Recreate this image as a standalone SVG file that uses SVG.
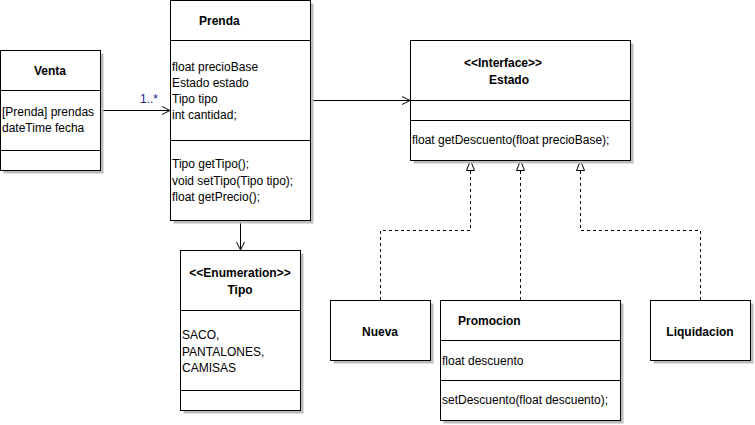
<svg xmlns="http://www.w3.org/2000/svg" width="755" height="425" viewBox="0 0 755 425">
<defs>
<style>
.box{fill:#ffffff;stroke:#000000;stroke-width:1}
.sh{fill:#bdbdbd;stroke:none}
.sep{stroke:#000000;stroke-width:1;fill:none}
text{font-family:"Liberation Sans",Arial,sans-serif;font-size:12px;fill:#000000}
.b{font-weight:bold}
.c{text-anchor:middle}
.edge{stroke:#000000;stroke-width:1;fill:none}
.dash{stroke-dasharray:3,3}
</style>
<marker id="open" markerWidth="10" markerHeight="10" refX="9" refY="5" orient="auto" markerUnits="userSpaceOnUse">
<path d="M1,1 L9,5 L1,9" fill="none" stroke="#000000" stroke-width="1"/>
</marker>
<marker id="tri" markerWidth="12" markerHeight="12" refX="10" refY="5" orient="auto" markerUnits="userSpaceOnUse">
<path d="M0,1 L10,5 L0,9 Z" fill="#ffffff" stroke="#000000" stroke-width="1"/>
</marker>
</defs>
<rect width="755" height="425" fill="#ffffff"/>

<g id="connectors">
<line class="edge" x1="100.5" y1="110.5" x2="170" y2="110.5" marker-end="url(#open)"/>
<text x="140" y="103" style="fill:#1c1c8a">1..*</text>
<line class="edge" x1="310.5" y1="100.5" x2="410" y2="100.5" marker-end="url(#open)"/>
<line class="edge" x1="240.5" y1="220.5" x2="240.5" y2="250" marker-end="url(#open)"/>
<path class="edge dash" d="M380.5,300 L380.5,230.5 L470.5,230.5 L470.5,160.5" marker-end="url(#tri)"/>
<path class="edge dash" d="M520.5,300 L520.5,160.5" marker-end="url(#tri)"/>
<path class="edge dash" d="M700.5,300 L700.5,230.5 L580.5,230.5 L580.5,160.5" marker-end="url(#tri)"/>
</g>

<g id="Venta">
<rect class="sh" x="3.5" y="53.5" width="100" height="120"/>
<rect class="box" x="0.5" y="50.5" width="100" height="120"/>
<line class="sep" x1="0.5" y1="90.5" x2="100.5" y2="90.5"/>
<line class="sep" x1="0.5" y1="150.5" x2="100.5" y2="150.5"/>
<text class="b c" x="50" y="75">Venta</text>
<text x="2" y="116">[Prenda] prendas</text>
<text x="2" y="132">dateTime fecha</text>
</g>

<g id="Prenda">
<rect class="sh" x="173.5" y="3.5" width="140" height="220"/>
<rect class="box" x="170.5" y="0.5" width="140" height="220"/>
<line class="sep" x1="170.5" y1="40.5" x2="310.5" y2="40.5"/>
<line class="sep" x1="170.5" y1="140.5" x2="310.5" y2="140.5"/>
<text class="b" x="199" y="25">Prenda</text>
<text x="172" y="71">float precioBase</text>
<text x="172" y="87">Estado estado</text>
<text x="172" y="103">Tipo tipo</text>
<text x="172" y="119">int cantidad;</text>
<text x="172" y="168">Tipo getTipo();</text>
<text x="172" y="185">void setTipo(Tipo tipo);</text>
<text x="172" y="201">float getPrecio();</text>
</g>

<g id="Estado">
<rect class="sh" x="413.5" y="43.5" width="220" height="120"/>
<rect class="box" x="410.5" y="40.5" width="220" height="120"/>
<line class="sep" x1="410.5" y1="100.5" x2="630.5" y2="100.5"/>
<line class="sep" x1="410.5" y1="120.5" x2="630.5" y2="120.5"/>
<text class="b c" x="503" y="67">&lt;&lt;Interface&gt;&gt;</text>
<text class="b c" x="509" y="84">Estado</text>
<text x="412" y="144">float getDescuento(float precioBase);</text>
</g>

<g id="Tipo">
<rect class="sh" x="183.5" y="253.5" width="120" height="160"/>
<rect class="box" x="180.5" y="250.5" width="120" height="160"/>
<line class="sep" x1="180.5" y1="310.5" x2="300.5" y2="310.5"/>
<line class="sep" x1="180.5" y1="390.5" x2="300.5" y2="390.5"/>
<text class="b c" x="240" y="277">&lt;&lt;Enumeration&gt;&gt;</text>
<text class="b c" x="240" y="294">Tipo</text>
<text x="182" y="339">SACO,</text>
<text x="182" y="356">PANTALONES,</text>
<text x="182" y="372">CAMISAS</text>
</g>

<g id="Nueva">
<rect class="sh" x="333.5" y="303.5" width="100" height="60"/>
<rect class="box" x="330.5" y="300.5" width="100" height="60"/>
<text class="b c" x="380" y="336">Nueva</text>
</g>

<g id="Promocion">
<rect class="sh" x="443.5" y="303.5" width="180" height="120"/>
<rect class="box" x="440.5" y="300.5" width="180" height="120"/>
<line class="sep" x1="440.5" y1="340.5" x2="620.5" y2="340.5"/>
<line class="sep" x1="440.5" y1="380.5" x2="620.5" y2="380.5"/>
<text class="b" x="458" y="325">Promocion</text>
<text x="442" y="365">float descuento</text>
<text x="442" y="404">setDescuento(float descuento);</text>
</g>

<g id="Liquidacion">
<rect class="sh" x="653.5" y="303.5" width="100" height="60"/>
<rect class="box" x="650.5" y="300.5" width="100" height="60"/>
<text class="b c" x="700" y="336">Liquidacion</text>
</g>
</svg>
